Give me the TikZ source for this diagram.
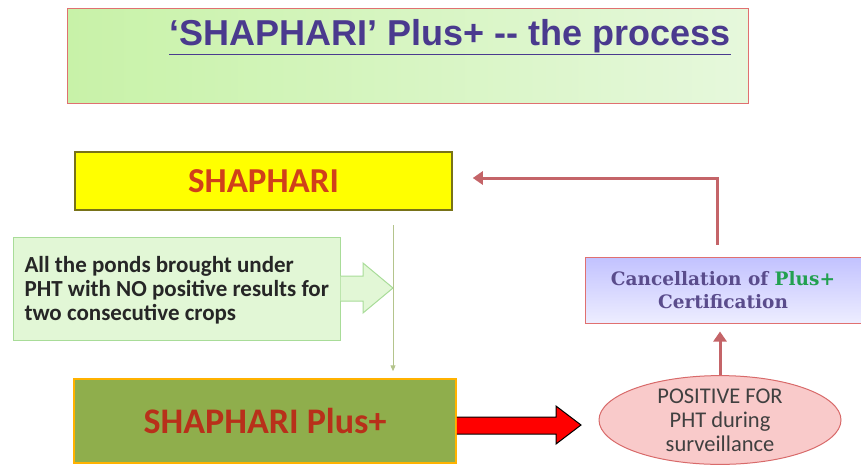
\documentclass[tikz,border=0pt]{standalone}
\usepackage{fontspec}
\setmainfont{Carlito}
\newfontfamily\arialf{Liberation Sans}
\newfontfamily\slabf{DejaVu Serif}
\usetikzlibrary{arrows.meta,shapes.geometric,calc}
\definecolor{titlepurple}{HTML}{4A3A8E}
\definecolor{boxred}{HTML}{E07070}
\definecolor{shyellow}{HTML}{FFFF00}
\definecolor{sholive}{HTML}{8FAE4C}
\definecolor{shtext}{HTML}{D0401A}
\definecolor{plustext}{HTML}{B8301A}
\definecolor{lgreen}{HTML}{E2F7D6}
\definecolor{lgreenb}{HTML}{A8DC98}
\definecolor{vline}{HTML}{B4C48C}
\definecolor{retred}{HTML}{C46468}
\definecolor{ellfill}{HTML}{F9CACA}
\definecolor{ellborder}{HTML}{D86A6A}
\definecolor{canctext}{HTML}{5A4C8C}
\definecolor{cancgreen}{HTML}{22A050}
\definecolor{tleft}{HTML}{C8F2A8}
\definecolor{tright}{HTML}{E6F8DC}
\tikzset{
  titlebox/.style={draw=boxred, line width=1pt, left color=tleft, right color=tright, minimum width=681pt, minimum height=95pt, inner sep=0pt},
  shbox/.style={draw=olive!80!black, line width=1.5pt, fill=shyellow, minimum width=377pt, minimum height=58pt, inner sep=0pt},
  condbox/.style={draw=lgreenb, line width=1pt, fill=lgreen, minimum width=327pt, minimum height=103pt, inner sep=0pt},
  plusbox/.style={draw=orange!60!yellow, line width=1.5pt, fill=sholive, minimum width=382pt, minimum height=84pt, inner sep=0pt},
  ellnode/.style={ellipse, draw=ellborder, line width=1pt, fill=ellfill, minimum width=242pt, minimum height=86pt, inner sep=0pt, align=center},
  cancbox/.style={draw=boxred, line width=1pt, top color=blue!24!white, bottom color=blue!7!white, minimum width=276pt, minimum height=66pt, inner sep=0pt, align=center},
  retarrow/.style={draw=retred, line width=3pt, -{Triangle[length=10pt,width=13pt]}},
  thinarrow/.style={draw=vline, line width=1pt, -{Triangle[length=6pt,width=5pt]}},
}
\begin{document}
\begin{tikzpicture}[x=1pt,y=-1pt]
\useasboundingbox (0,0) rectangle (861,464);
% title
\node[titlebox] (title) at (407.5,55.5) {};
\node[font=\arialf\bfseries\fontsize{36}{40}\selectfont, text=titlepurple, anchor=base] (ttext) at (450,45) {\underline{‘SHAPHARI’ Plus+ -- the process}};
% SHAPHARI
\node[shbox, font=\bfseries\fontsize{35}{38}\selectfont, text=shtext] (shaphari) at (263.5,181) {SHAPHARI};
% condition box
\node[condbox] (cond) at (176.5,288.5) {};
\node[font=\bfseries\fontsize{23}{24}\selectfont, align=left, anchor=west, text=black!85] (condtext) at (21,290) {All the ponds brought under\\PHT with NO positive results for\\two consecutive crops};
\draw[draw=lgreenb, fill=lgreen, line width=1pt] (cond.east |- 0,276) -- (363,276) -- (363,263) -- (393,288) -- (363,313) -- (363,301) -- (cond.east |- 0,301);
% vertical line
\coordinate (vtop) at (393,225);
\node[plusbox, font=\bfseries\fontsize{36}{38}\selectfont, text=plustext] (plus) at (265,421) {SHAPHARI Plus+};
\draw[thinarrow, shorten >=7pt] (vtop) -- (vtop |- plus.north);
% ellipse
\node[ellnode, font=\fontsize{22.5}{24}\selectfont, text=black!75] (ell) at (720,420) {POSITIVE FOR\\PHT during\\surveillance};
% red block arrow
\draw[fill=red, draw=black, line width=1pt] (plus.east |- 0,417) -- (556,417) -- (556,406) -- (581,425) -- (556,444) -- (556,434) -- (plus.east |- 0,434);
% cancellation
\node[cancbox, font=\slabf\bfseries\fontsize{18.5}{23}\selectfont, text=canctext] (canc) at (723,290) {Cancellation of \textcolor{cancgreen}{Plus+}\\Certification};
\draw[retarrow, shorten >=8pt] (ell.north) -- (ell.north |- canc.south);
\draw[retarrow, shorten >=20pt] ([xshift=-6pt,yshift=12pt]canc.north) |- ([yshift=3pt]shaphari.east);
\end{tikzpicture}
\end{document}
